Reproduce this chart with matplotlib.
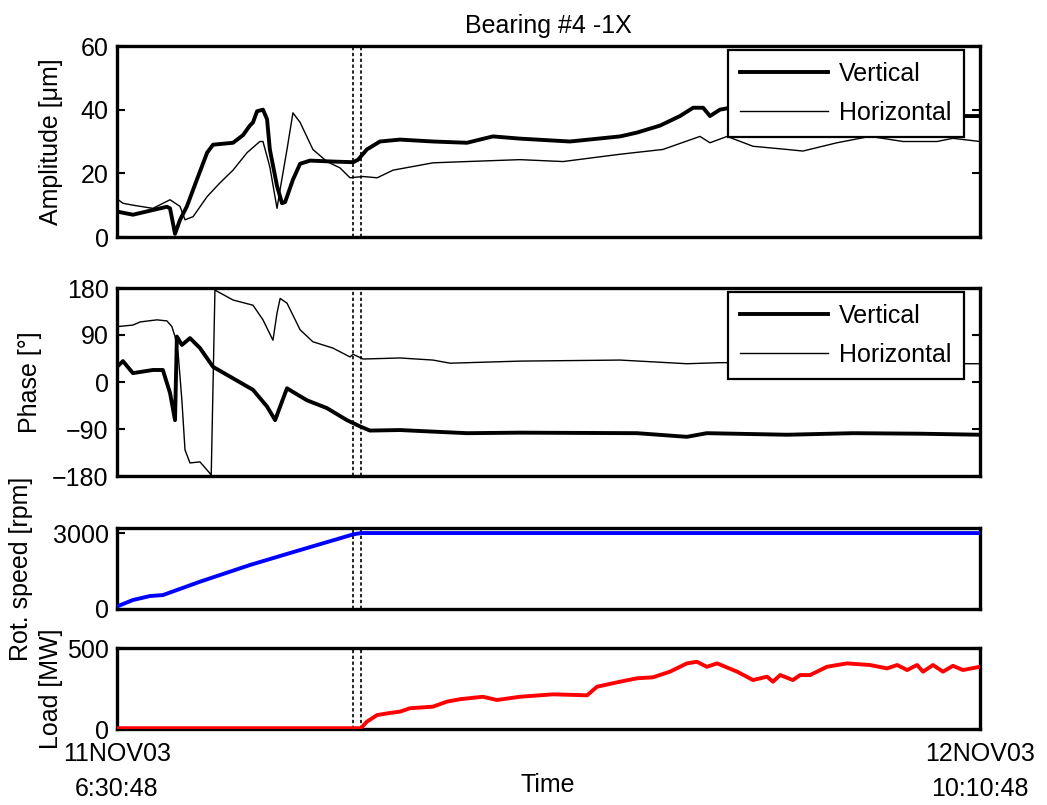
import matplotlib
matplotlib.use("Agg")
import matplotlib.pyplot as plt

plt.rcParams['font.family'] = ['Liberation Sans', 'DejaVu Sans']
FS = 18
plt.rcParams['font.size'] = FS

# time axis in hours since 11NOV03 6:30:48
t_end = 27 + 40 / 60
xtick_labels = ["11NOV03\n6:30:48", "12NOV03\n10:10:48"]
marker_times = [7.57, 7.82]

# Amplitude (um)
amp_v_t = [0, 0.51, 1.60, 1.70, 1.86, 2.02, 2.24, 2.56, 2.89, 3.08, 3.72, 4.04, 4.26, 4.36,
           4.49, 4.68, 4.81, 4.90, 5.13, 5.29, 5.39, 5.64, 5.87, 6.19, 6.92, 7.57, 7.73, 8.01,
           8.43, 9.07, 10.13, 11.22, 12.05, 12.92, 14.52, 16.13, 16.67, 17.41, 18.05, 18.47,
           18.79, 19.01, 19.33, 19.65, 21.0, 23.0, 25.0, 27.12, t_end]
amp_v = [8, 7, 9.5, 9, 1, 5.4, 9.6, 18, 26.5, 29, 29.6, 32, 35, 36,
         39.5, 40, 37, 27.5, 16, 10.6, 11, 18, 23, 24, 23.7, 23.5, 24.3, 27.5,
         30, 30.6, 30, 29.6, 31.6, 30.9, 30, 31.6, 32.8, 35, 38, 40.6,
         40.6, 38, 40, 40.6, 40, 39, 38.5, 38, 38]

amp_h_t = [0, 0.19, 0.51, 1.15, 1.70, 2.02, 2.18, 2.44, 2.89, 3.30, 3.72, 4.17, 4.58, 4.68,
           4.90, 5.13, 5.23, 5.45, 5.64, 5.87, 6.28, 6.73, 7.15, 7.47, 7.89, 8.34, 8.85, 10.13,
           11.22, 12.92, 14.30, 16.13, 17.50, 18.69, 19.01, 19.56, 20.39, 21.48, 21.99, 23.08,
           24.14, 25.20, 26.29, 26.80, t_end]
amp_h = [12, 10.6, 10, 9, 11.7, 9.6, 5.4, 6.4, 12.7, 17, 21, 26.5, 30, 30,
         22, 9, 15, 27.5, 39, 36, 27.5, 23.7, 21.7, 18.6, 19, 18.6, 21, 23.3,
         23.7, 24.3, 23.7, 26, 27.5, 31.6, 29.6, 31.6, 28.5, 27.5, 27, 29.6,
         31.6, 30, 30, 31, 30]

# Phase (deg)
ph_v_t = [0, 0.19, 0.51, 1.15, 1.47, 1.70, 1.86, 1.92, 2.08, 2.34, 2.66, 3.08, 3.72, 4.36,
          4.81, 5.07, 5.23, 5.45, 5.64, 6.09, 6.73, 7.37, 7.79, 8.11, 9.07, 10.13, 11.22,
          12.92, 16.67, 18.27, 18.91, 21.48, 23.60, 25.74, t_end]
ph_v = [29, 40, 17, 23, 23, -21, -73, 87, 71, 84, 65, 29, 7, -15,
        -47, -73, -47, -12, -19, -35, -50, -73, -85, -93, -92, -95, -98,
        -97, -98, -105, -98, -101, -98, -99, -101]

ph_h_t = [0, 0.51, 0.74, 1.28, 1.60, 1.76, 1.86, 1.96, 2.08, 2.18, 2.34, 2.66, 2.98, 3.02,
          3.14, 3.72, 4.36, 4.68, 5.00, 5.13, 5.23, 5.45, 5.87, 6.28, 6.92, 7.47, 7.57, 7.89,
          9.07, 10.13, 10.68, 12.92, 16.13, 18.27, 19.33, 21.5, 24.0, 27.25, t_end]
ph_h = [106, 109, 115, 119, 117, 106, 87, 55, -35, -130, -155, -153, -175, -180,
        176, 157, 147, 119, 80, 132, 160, 151, 100, 77, 65, 48, 53, 44,
        46, 42, 36, 40, 42, 35, 37, 37, 36, 35, 35]

# Rotational speed (rpm)
speed_t = [0, 0.51, 1.06, 1.47, 2.66, 4.26, 5.87, 7.57, 7.82, t_end]
speed = [100, 355, 513, 550, 1078, 1737, 2329, 2947, 3000, 3000]

# Load (MW)
load_t = [0, 2.0, 4.0, 6.0, 7.3, 7.82, 8.01, 8.34, 8.75, 9.07, 9.39, 10.13, 10.58, 11.00,
          11.73, 12.18, 12.92, 13.98, 15.07, 15.39, 16.13, 16.67, 17.18, 17.73, 18.27, 18.59,
          18.91, 19.24, 19.88, 20.39, 20.84, 21.03, 21.26, 21.67, 21.90, 22.22, 22.76, 23.40,
          24.14, 24.69, 25.01, 25.33, 25.65, 25.84, 26.16, 26.48, 26.80, 27.12, t_end]
load = [5, 5, 5, 5, 5, 5, 45, 86, 99, 107, 128, 138, 169, 184,
        199, 179, 199, 214, 208, 261, 292, 313, 319, 354, 405, 415,
        384, 405, 354, 302, 323, 292, 333, 302, 333, 333, 384, 405,
        395, 374, 395, 364, 395, 354, 395, 354, 390, 364, 384]

W, H = 1047, 805
fig = plt.figure(figsize=(W / 100, H / 100), dpi=100)

def make_ax(top_px, bot_px):
    left, right = 117, 980
    return fig.add_axes([left / W, 1 - bot_px / H, (right - left) / W, (bot_px - top_px) / H])

ax1 = make_ax(46, 237)
ax2 = make_ax(288, 476)
ax3 = make_ax(528, 609)
ax4 = make_ax(648, 729)

for ax in (ax1, ax2, ax3, ax4):
    ax.set_xlim(0, t_end)
    ax.set_xticks([0, t_end])
    ax.tick_params(direction='in', length=6, width=1.5, right=True, top=False,
                   labelsize=FS, pad=6)
    ax.tick_params(axis='x', length=0, pad=9)
    for s in ax.spines.values():
        s.set_linewidth(2.4)
    for mt in marker_times:
        ax.axvline(mt, color='black', linestyle=(0, (2, 1.5)), linewidth=1.2, zorder=1)

for ax in (ax1, ax2, ax3):
    ax.set_xticklabels([])
ax4.set_xticklabels(xtick_labels, linespacing=1.6)

# Amplitude
ax1.plot(amp_v_t, amp_v, color='black', linewidth=2.8, label='Vertical', zorder=3)
ax1.plot(amp_h_t, amp_h, color='black', linewidth=1.0, label='Horizontal', zorder=3)
ax1.set_ylim(0, 60)
ax1.set_yticks([0, 20, 40, 60])
ax1.set_ylabel('Amplitude [\u03bcm]')
ax1.yaxis.set_label_coords(-0.063, 0.5)
ax1.set_title('Bearing #4 -1X', fontsize=FS, pad=9)

# Phase
ax2.plot(ph_v_t, ph_v, color='black', linewidth=2.8, label='Vertical', zorder=3)
ax2.plot(ph_h_t, ph_h, color='black', linewidth=1.0, label='Horizontal', zorder=3)
ax2.set_ylim(-180, 180)
ax2.set_yticks([-180, -90, 0, 90, 180])
ax2.set_ylabel('Phase [\u00b0]')
ax2.yaxis.set_label_coords(-0.087, 0.5)

for ax in (ax1, ax2):
    leg = ax.legend(loc='upper right', bbox_to_anchor=(0.981, 0.98), fancybox=False,
                    framealpha=1, edgecolor='black', handlelength=3.5, handletextpad=0.45,
                    borderpad=0.48, labelspacing=0.6, fontsize=FS, borderaxespad=0.0)
    leg.get_frame().set_linewidth(1.6)
    leg.set_zorder(10)

# Speed
ax3.plot(speed_t, speed, color='blue', linewidth=2.8, zorder=3)
ax3.set_ylim(0, 3200)
ax3.set_yticks([0, 3000])
ax3.set_ylabel('Rot. speed [rpm]')
ax3.yaxis.set_label_coords(-0.097, 0.5)

# Load
ax4.plot(load_t, load, color='red', linewidth=2.8, zorder=3)
ax4.set_ylim(0, 500)
ax4.set_yticks([0, 500])
ax4.set_ylabel('Load [MW]')
ax4.yaxis.set_label_coords(-0.062, 0.5)

fig.text(548 / W, 1 - 785 / H, 'Time', ha='center', va='center', fontsize=FS)

fig.savefig('out.png', dpi=100)
